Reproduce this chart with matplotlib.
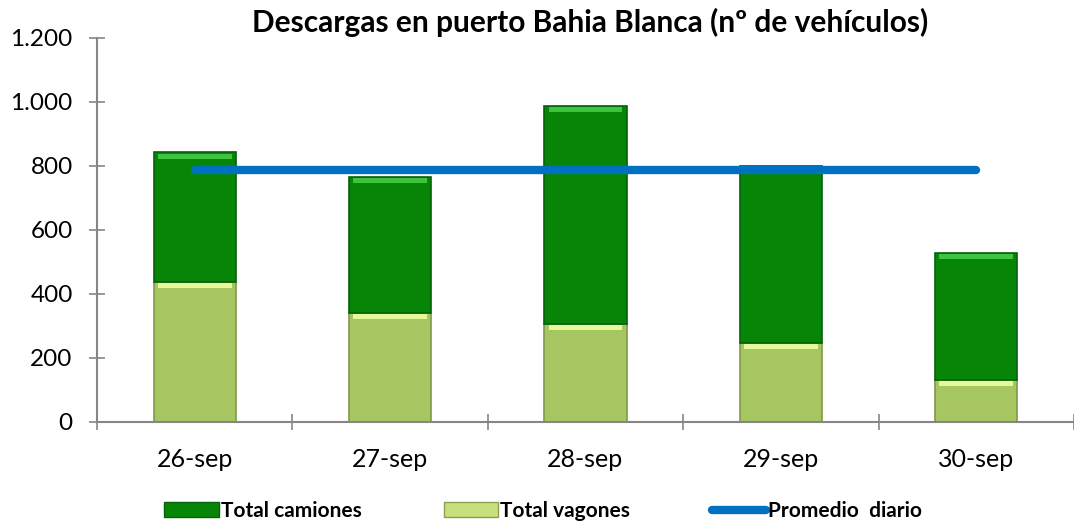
import matplotlib
matplotlib.use("Agg")
import matplotlib.pyplot as plt
from matplotlib.patches import Patch
from matplotlib.lines import Line2D
from matplotlib.ticker import FuncFormatter

dias = ["26-sep", "27-sep", "28-sep", "29-sep", "30-sep"]
vagones = [438, 341, 306, 248, 131]
camiones = [405, 426, 682, 553, 398]
promedio = 786

plt.rcParams['font.family'] = ['Lato', 'DejaVu Sans']

fig = plt.figure(figsize=(10.74, 5.24), dpi=100)
ax = fig.add_axes([97 / 1074, 1 - 422 / 524, 1 - 97 / 1074, 384 / 524])

x = range(len(dias))
w = 0.42
ax.bar(x, vagones, w, color="#a6c662", edgecolor="#7f9a48", linewidth=1.2, zorder=2)
ax.bar(x, camiones, w, bottom=vagones, color="#078507", edgecolor="#04620a",
       linewidth=1.2, zorder=2)
# bevel highlights
tops_v = vagones
tops_c = [v + c for v, c in zip(vagones, camiones)]
ax.bar(x, [16] * 5, w * 0.9, bottom=[t - 20 for t in tops_v], color="#e6f99a",
       linewidth=0, zorder=3)
ax.bar(x, [16] * 5, w * 0.9, bottom=[t - 20 for t in tops_c], color="#3ec43e",
       linewidth=0, zorder=3)

ax.plot(list(x), [promedio] * len(dias), color="#0070c0", linewidth=6,
        solid_capstyle="round", zorder=4)

ax.set_xlim(-0.5, len(dias) - 0.5)
ax.set_ylim(0, 1200)
ax.set_yticks(range(0, 1201, 200))
ax.yaxis.set_major_formatter(FuncFormatter(lambda v, p: f"{int(v):,}".replace(",", ".")))
ax.set_xticks(list(x))
ax.set_xticklabels(dias)
ax.set_xticks([i + 0.5 for i in range(-1, len(dias))], minor=True)

for s in ["top", "right"]:
    ax.spines[s].set_visible(False)
for s in ["left", "bottom"]:
    ax.spines[s].set_color("#868686")
    ax.spines[s].set_linewidth(1.5)

ax.tick_params(axis="y", direction="inout", length=11, color="#868686", width=1.2,
               labelsize=17.5, pad=12)
ax.tick_params(axis="x", which="major", length=0, labelsize=18, pad=19)
ax.tick_params(axis="x", which="minor", direction="inout", length=12,
               color="#868686", width=1.2)

fig.text(0.549, 0.957, "Descargas en puerto Bahia Blanca (nº de vehículos)",
         ha="center", va="center", fontsize=21.5, fontweight="bold")

handles = [
    Patch(facecolor="#078507", edgecolor="#04620a", label="Total camiones"),
    Patch(facecolor="#c8e07c", edgecolor="#8aa050", label="Total vagones"),
    Line2D([0], [0], color="#0070c0", linewidth=6, solid_capstyle="round",
           label="Promedio  diario"),
]
fig.legend(handles=handles, loc="center", bbox_to_anchor=(0.506, 0.025), ncol=3,
           frameon=False, prop={"weight": "bold", "size": 15},
           handlelength=2.6, handletextpad=0.1, columnspacing=3.95)

fig.savefig("out.png", dpi=100)
